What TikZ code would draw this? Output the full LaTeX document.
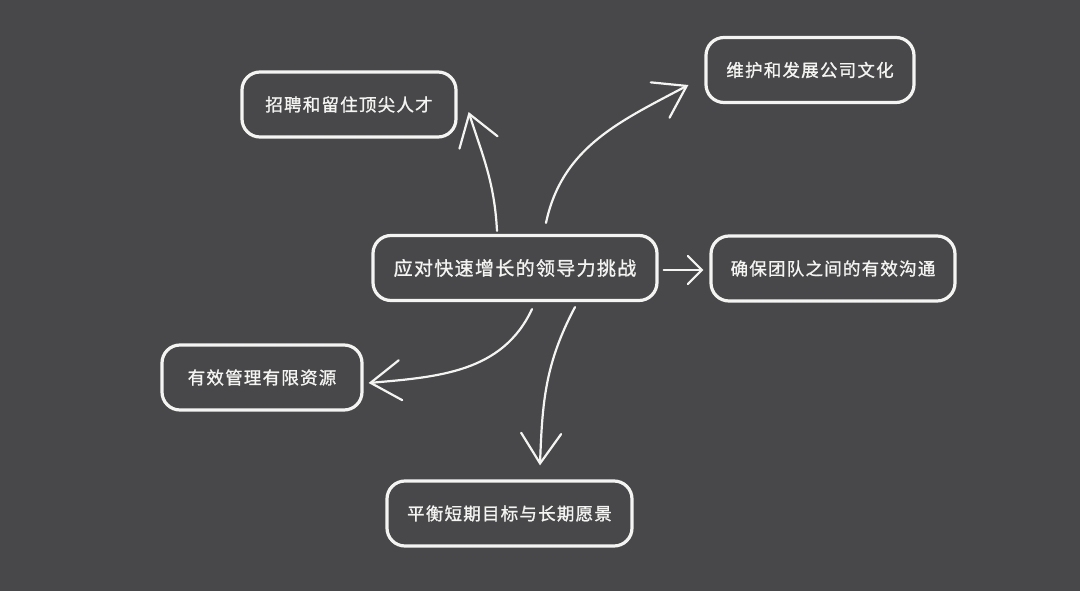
\documentclass[tikz,border=0pt]{standalone}
\usepackage{fontspec}
\usetikzlibrary{arrows.meta}
\newfontfamily\cjk[LetterSpace=7,FakeBold=1.2]{Noto Sans CJK SC}
\definecolor{boardc}{HTML}{484749}
\definecolor{chalkc}{HTML}{F4F4F2}
\tikzset{
  board/.style={fill=boardc},
  topic/.style={draw=chalkc, line width=3.2pt, rounded corners=18pt, text=chalkc,
    font=\cjk\fontsize{17.5}{20}\selectfont, minimum height=65pt, inner sep=0pt},
  hub/.style={topic, font=\cjk\fontsize{19}{22}\selectfont},
  chalk/.style={draw=chalkc, line width=2.2pt, line cap=round,
    -{Straight Barb[length=30pt,width=40pt,line cap=round]}},
}

\begin{document}
\begin{tikzpicture}[x=1pt,y=-1pt]
\fill[board] (0,0) rectangle (1080,591);
\node[hub, minimum width=284pt] (hub) at (515,268) {应对快速增长的领导力挑战};
\node[topic, minimum width=214pt] (talent) at (349,104.5) {招聘和留住顶尖人才};
\node[topic, minimum width=208pt] (culture) at (810,70) {维护和发展公司文化};
\node[topic, minimum width=244pt] (comm) at (833,268.5) {确保团队之间的有效沟通};
\node[topic, minimum width=200pt] (resource) at (262,377.5) {有效管理有限资源};
\node[topic, minimum width=245pt] (balance) at (509.5,513.5) {平衡短期目标与长期愿景};
\draw[chalk] ([xshift=-18pt,yshift=3pt]hub.north) to[out=93,in=-72] ([xshift=11pt,yshift=-7.5pt]talent.east);
\draw[chalk] ([xshift=31pt,yshift=11pt]hub.north) to[out=78,in=-152] ([xshift=-16pt,yshift=-15pt]culture.west);
\draw[chalk, -{Straight Barb[length=14pt,width=28pt,line cap=round]}] ([xshift=5pt,yshift=-2pt]hub.east) -- ([xshift=-6pt,yshift=-1.5pt]comm.west);
\draw[chalk] ([xshift=17pt,yshift=-7pt]hub.south) to[out=-115,in=5] ([xshift=5pt,yshift=-5.5pt]resource.east);
\draw[chalk] ([xshift=60pt,yshift=-5pt]hub.south) to[out=-118,in=88] ([xshift=30.5pt,yshift=14pt]balance.north);
\end{tikzpicture}
\end{document}
